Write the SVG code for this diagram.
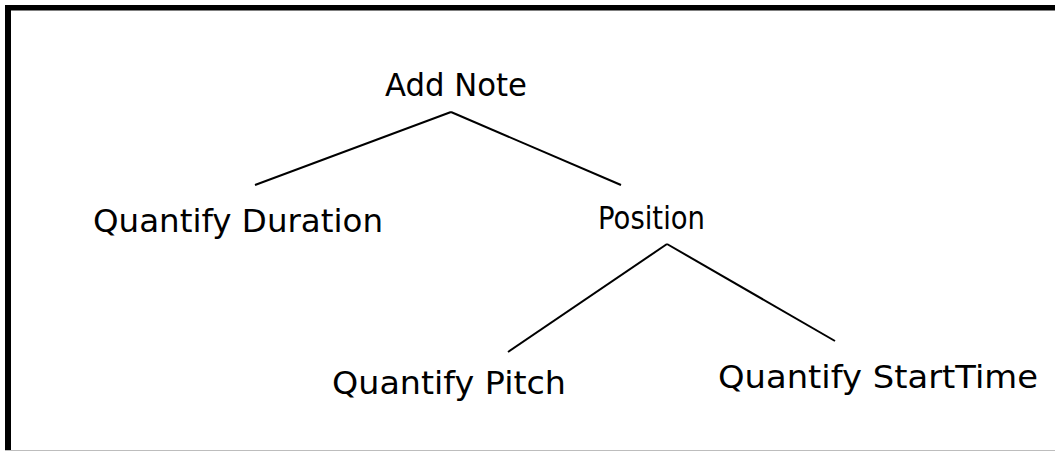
<svg xmlns="http://www.w3.org/2000/svg" width="1055" height="451" viewBox="0 0 1055 451">
  <style>
    .lbl { font-family: "DejaVu Sans", "Liberation Sans", sans-serif; font-size: 32px; fill: #000; }
    .edge { stroke: #000; stroke-width: 2; fill: none; }
  </style>
  <rect x="0" y="0" width="1055" height="451" fill="#fff"/>
  <g id="frame">
    <rect x="5" y="5" width="1050" height="5.5" fill="#000"/>
    <rect x="5" y="5" width="6" height="446" fill="#000"/>
    <line x1="5" y1="450.5" x2="1055" y2="450.5" stroke="#bdbdbd" stroke-width="1"/>
  </g>
  <g id="connectors">
    <line class="edge" x1="451" y1="112" x2="255" y2="185"/>
    <line class="edge" x1="451" y1="112" x2="621" y2="185"/>
    <line class="edge" x1="667" y1="244" x2="508" y2="352"/>
    <line class="edge" x1="667" y1="244" x2="835" y2="341"/>
  </g>
  <g id="add-note"><text class="lbl" x="385" y="96" textLength="142" lengthAdjust="spacingAndGlyphs">Add Note</text></g>
  <g id="quantify-duration"><text class="lbl" x="93" y="232" textLength="290" lengthAdjust="spacingAndGlyphs">Quantify Duration</text></g>
  <g id="position"><text class="lbl" x="598" y="229" textLength="107" lengthAdjust="spacingAndGlyphs">Position</text></g>
  <g id="quantify-pitch"><text class="lbl" x="332" y="394" textLength="234" lengthAdjust="spacingAndGlyphs">Quantify Pitch</text></g>
  <g id="quantify-starttime"><text class="lbl" x="718" y="388" textLength="320" lengthAdjust="spacingAndGlyphs">Quantify StartTime</text></g>
</svg>
